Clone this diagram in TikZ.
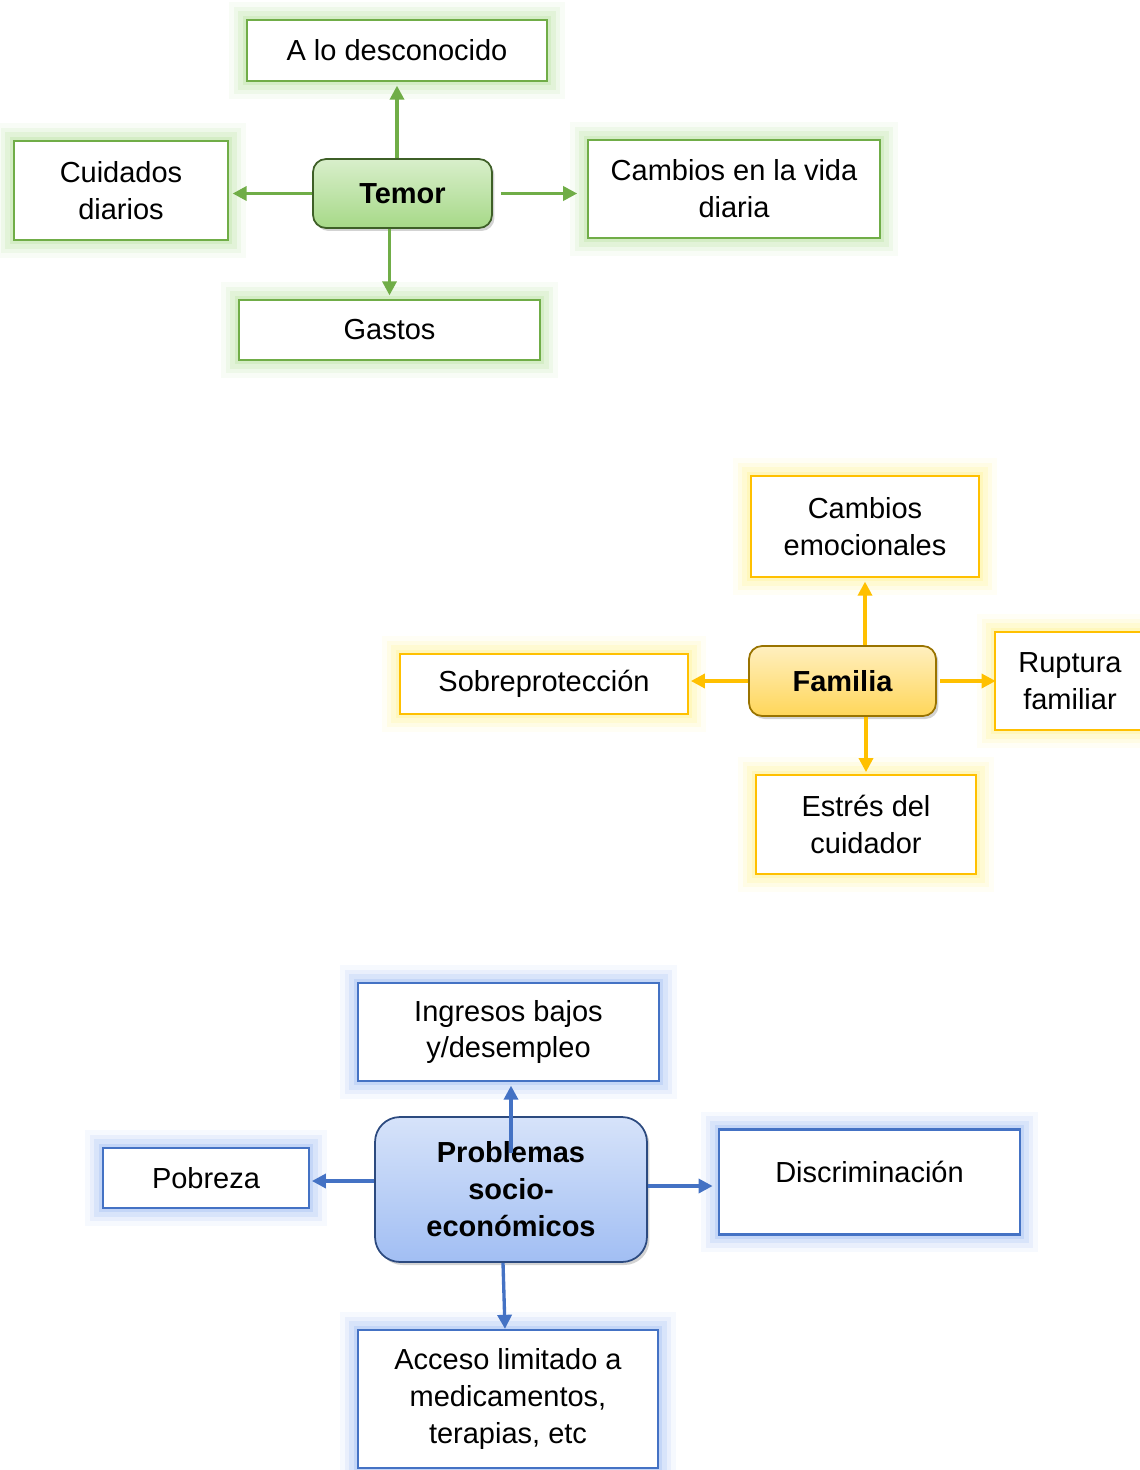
\documentclass[tikz,border=0pt]{standalone}
\usepackage{fontspec}
\setmainfont{Liberation Sans}
\usetikzlibrary{arrows.meta, shadows}

\definecolor{grline}{HTML}{70AD47}
\definecolor{grglow}{HTML}{A9DB8B}
\definecolor{yeline}{HTML}{FFC000}
\definecolor{yeglow}{HTML}{FFF07A}
\definecolor{blline}{HTML}{4472C4}
\definecolor{blglow}{HTML}{8AAEF0}

\tikzset{
    txt/.style={font=\fontsize{16.5}{21}\selectfont, align=center, text=black},
    glow/.style={preaction={draw=#1, opacity=.08, line width=20pt, rounded corners=4pt},
                 preaction={draw=#1, opacity=.12, line width=15pt, rounded corners=3pt},
                 preaction={draw=#1, opacity=.18, line width=10pt, rounded corners=2pt},
                 preaction={draw=#1, opacity=.25, line width=5pt}},
    leaf/.style={txt, draw=#1line, line width=1.3pt, fill=white, inner sep=0pt, glow=#1glow},
    hub/.style={txt, font=\fontsize{16.5}{21}\selectfont\bfseries, rounded corners=0.26cm,
                line width=1pt, inner sep=0pt, drop shadow={opacity=.35, shadow xshift=.05cm, shadow yshift=-.06cm}},
    link/.style={draw=#1, line width=1.9pt, -{Triangle[width=8pt, length=8pt]}}
}

\begin{document}
\begin{tikzpicture}[x=0.02cm, y=-0.02cm]
    \useasboundingbox (0,0) rectangle (1139,1470);

    % Temor
    \node[leaf=gr, minimum width=6cm, minimum height=1.22cm] (desc) at (397,50.5) {A lo desconocido};
    \node[leaf=gr, minimum width=4.28cm, minimum height=1.98cm] (cuid) at (121,190.5) {Cuidados\\diarios};
    \node[leaf=gr, minimum width=5.84cm, minimum height=1.96cm] (camb) at (734,189) {Cambios en la vida\\diaria};
    \node[leaf=gr, minimum width=6.02cm, minimum height=1.2cm] (gast) at (389.5,330) {Gastos};
    \node[hub, draw=black!45!grline, top color=grglow!45, bottom color=grglow!95!grline,
          minimum width=3.58cm, minimum height=1.38cm] (temor) at (402.5,193.5) {Temor};

    \draw[link=grline, shorten >=2pt] (temor.north -| desc.south) -- (desc.south);
    \draw[link=grline, shorten >=2pt] (temor.west) -- (temor.west -| cuid.east);
    \draw[link=grline, shorten <=4.5pt, shorten >=5.5pt] (temor.east) -- (temor.east -| camb.west);
    \draw[link=grline, shorten >=2pt] (temor.south -| gast.north) -- (gast.north);

    % Familia
    \node[leaf=ye, minimum width=4.56cm, minimum height=2.02cm] (emoc) at (865,526.5) {Cambios\\emocionales};
    \node[leaf=ye, minimum width=5.76cm, minimum height=1.2cm] (sobre) at (544,684) {Sobreprotección};
    \node[leaf=ye, minimum width=3cm, minimum height=1.96cm] (rupt) at (1070,681) {Ruptura\\familiar};
    \node[leaf=ye, minimum width=4.4cm, minimum height=1.98cm] (estres) at (866,824.5) {Estrés del\\cuidador};
    \node[hub, draw=black!40!yeline, top color=yeline!25, bottom color=yeline!65,
          minimum width=3.74cm, minimum height=1.4cm] (fam) at (842.5,681) {Familia};

    \draw[link=yeline, shorten >=2pt] (fam.north -| emoc.south) -- (emoc.south);
    \draw[link=yeline, shorten >=1pt] (fam.west) -- (fam.west -| sobre.east);
    \draw[link=yeline, shorten <=2pt, shorten >=-1pt] (fam.east) -- (fam.east -| rupt.west);
    \draw[link=yeline, shorten >=1pt] (fam.south -| estres.north) -- (estres.north);

    % Problemas socio-economicos
    \node[leaf=bl, minimum width=6.02cm, minimum height=1.96cm] (ingr) at (508.5,1032) {Ingresos bajos\\y/desempleo};
    \node[leaf=bl, minimum width=4.12cm, minimum height=1.2cm] (pobr) at (206,1178) {Pobreza};
    \node[leaf=bl, minimum width=6.02cm, minimum height=2.1cm, text depth=0.4cm] (disc) at (869.5,1182) {Discriminación};
    \node[leaf=bl, minimum width=6cm, minimum height=2.76cm] (acces) at (508,1399) {Acceso limitado a\\medicamentos,\\terapias, etc};
    \node[hub, rounded corners=0.5cm, draw=black!35!blline, top color=blglow!35, bottom color=blglow!80,
          minimum width=5.44cm, minimum height=2.9cm] (prob) at (511,1189.5) {Problemas\\socio-\\económicos};
    \coordinate (ptail) at ([yshift=0.73cm]prob.center);

    \draw[link=blline, shorten >=2pt] (ptail) -- (ptail |- ingr.south);
    \draw[link=blline, shorten >=1pt] ([yshift=.17cm]prob.west) -- ([yshift=.17cm]prob.west -| pobr.east);
    \draw[link=blline, shorten >=3pt] ([yshift=.07cm]prob.east) -- ([yshift=.07cm]prob.east -| disc.west);
    \draw[link=blline] ([xshift=-.16cm]prob.south) -- ([xshift=-.06cm]acces.north);
\end{tikzpicture}
\end{document}
